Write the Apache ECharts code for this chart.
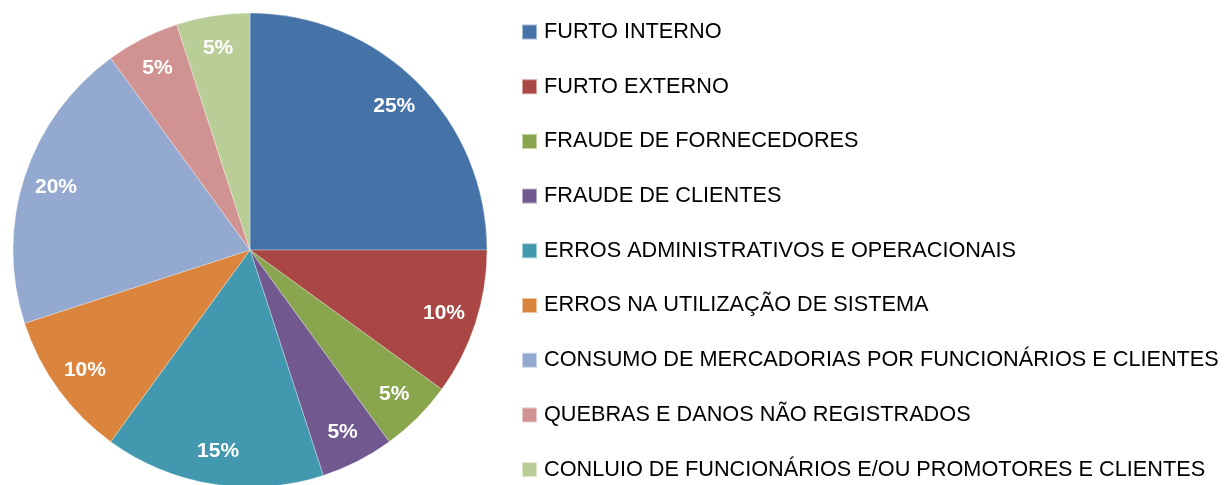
<!DOCTYPE html>
<html>
<head>
<meta charset="utf-8">
<script src="https://cdn.jsdelivr.net/npm/echarts@6/dist/echarts.min.js"></script>
<style>
  html, body { margin: 0; padding: 0; background: #ffffff; }
  #chart { width: 1230px; height: 485px; }
</style>
</head>
<body>
<div id="chart"></div>
<script>
  // categorias e valores (%)
  var categories = [
    "FURTO INTERNO",
    "FURTO EXTERNO",
    "FRAUDE DE FORNECEDORES",
    "FRAUDE DE CLIENTES",
    "ERROS ADMINISTRATIVOS E OPERACIONAIS",
    "ERROS NA UTILIZAÇÃO DE SISTEMA",
    "CONSUMO DE MERCADORIAS POR FUNCIONÁRIOS E CLIENTES",
    "QUEBRAS E DANOS NÃO REGISTRADOS",
    "CONLUIO DE FUNCIONÁRIOS E/OU PROMOTORES E CLIENTES"
  ];
  var values = [25, 10, 5, 5, 15, 10, 20, 5, 5];
  var colors = ["#4572A7", "#AA4643", "#89A54E", "#71588F", "#4198AF",
                "#DB843D", "#93A9CF", "#D19392", "#B9CD96"];

  var font = "Liberation Sans";
  var pieData = categories.map(function (c, i) {
    return { name: c, value: values[i] };
  });

  var myChart = echarts.init(document.getElementById("chart"));
  myChart.setOption({
    color: colors,
    animation: false,
    legend: {
      orient: "vertical",
      left: 521,
      top: 21,
      padding: 0,
      height: 470,
      icon: "rect",
      itemWidth: 15,
      itemHeight: 15,
      itemGap: 32.7,
      selectedMode: false,
      data: categories,
      textStyle: {
        fontFamily: font,
        fontSize: 21.7,
        color: "#000000",
        padding: [0, 0, 0, 2]
      }
    },
    series: [
      {
        type: "pie",
        center: [250, 250],
        radius: [0, 237],
        startAngle: 90,
        clockwise: true,
        silent: true,
        label: { show: false },
        labelLine: { show: false },
        itemStyle: { borderColor: "rgba(255,255,255,0.5)", borderWidth: 0.6 },
        data: pieData
      },
      {
        // serie transparente só para posicionar os rótulos
        type: "pie",
        center: [250, 250],
        radius: [165, 237],
        startAngle: 90,
        clockwise: true,
        silent: true,
        itemStyle: { color: "transparent" },
        labelLine: { show: false },
        label: {
          show: true,
          position: "inside",
          formatter: "{c}%",
          color: "#ffffff",
          fontFamily: font,
          fontWeight: "bold",
          fontSize: 21
        },
        data: pieData
      }
    ]
  });
</script>
</body>
</html>
